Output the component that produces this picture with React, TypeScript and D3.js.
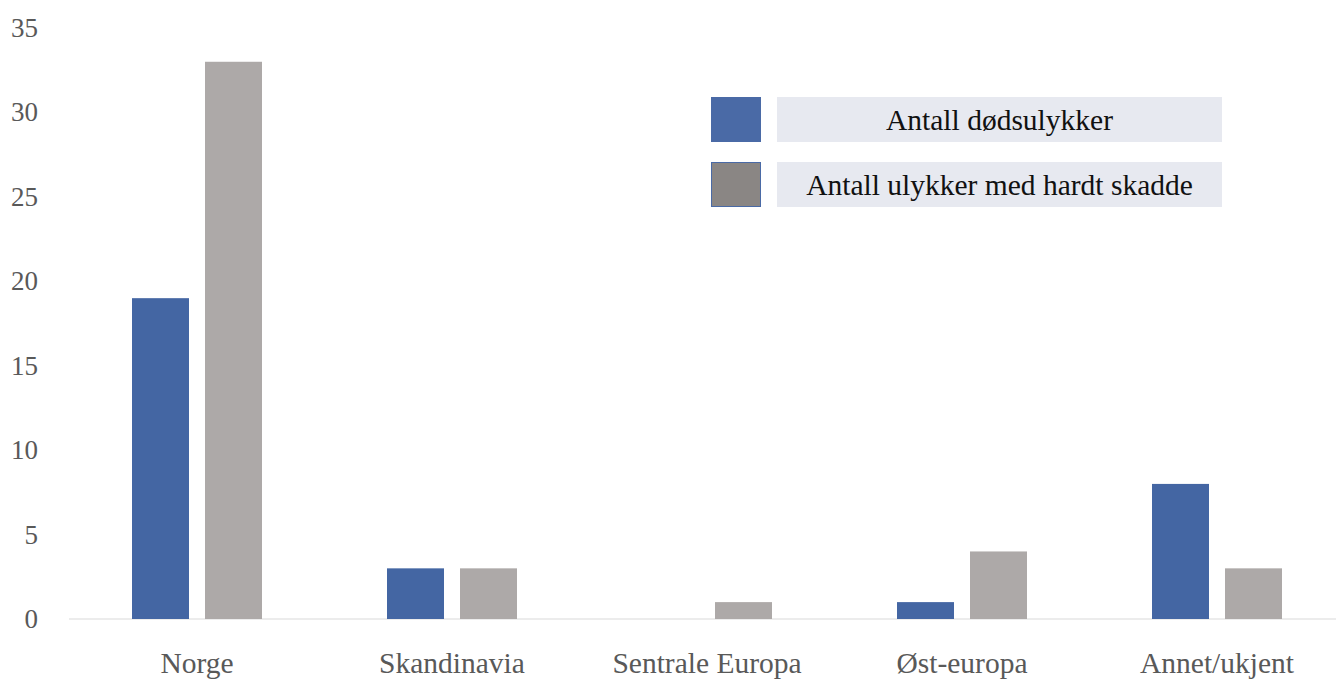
import React from "react";
import * as d3 from "d3";

const categories = ["Norge", "Skandinavia", "Sentrale Europa", "Øst-europa", "Annet/ukjent"];
const seriesNames = ["Antall dødsulykker", "Antall ulykker med hardt skadde"];
const deaths = [19, 3, 0, 1, 8];
const injured = [33, 3, 1, 4, 3];
const yTicks = [0, 5, 10, 15, 20, 25, 30, 35];

const W = 1336;
const H = 679;
const FONT = "'Liberation Serif', 'DejaVu Serif', serif";

export default function App() {
  const x = d3.scaleBand<string>().domain(categories).range([69.5, 1344.5]);
  const y = d3.scaleLinear().domain([0, 35]).range([619, 28]);
  const barW = 57;
  const gap = 16;
  const colors = ["#4466A3", "#ADA9A8"];
  const legendFill = ["#4A6AA6", "#8A8684"];
  const series = [deaths, injured];

  return (
    <svg
      width={W}
      height={H}
      style={{ position: "absolute", left: 0, top: 0, background: "#fff" }}
      fontFamily={FONT}
    >
      {yTicks.map((t) => (
        <text
          key={t}
          x={38}
          y={y(t)}
          textAnchor="end"
          dominantBaseline="central"
          fontSize={27}
          fill="#595959"
        >
          {t}
        </text>
      ))}
      <line x1={69} x2={W} y1={y(0)} y2={y(0)} stroke="#D9D9D9" strokeWidth={1.2} />
      {categories.map((c, i) => {
        const cx = x(c)! + x.bandwidth() / 2;
        return (
          <g key={c}>
            {series.map((s, k) => {
              const v = s[i];
              if (v === 0) return null;
              const bx = k === 0 ? cx - gap / 2 - barW : cx + gap / 2;
              return (
                <rect
                  key={k}
                  x={bx}
                  y={y(v)}
                  width={barW}
                  height={y(0) - y(v)}
                  fill={colors[k]}
                />
              );
            })}
            <text
              x={cx}
              y={673}
              textAnchor="middle"
              fontSize={29.5}
              fill="#595959"
            >
              {c}
            </text>
          </g>
        );
      })}
      {seriesNames.map((name, k) => {
        const top = k === 0 ? 97 : 162;
        return (
          <g key={name}>
            <rect
              x={711.5}
              y={top + 0.5}
              width={49}
              height={44}
              fill={legendFill[k]}
              stroke="#4A6AA6"
              strokeWidth={1}
            />
            <rect x={777} y={top} width={445} height={45} fill="#E7E9F0" />
            <text
              x={999.5}
              y={top + 23}
              textAnchor="middle"
              dominantBaseline="central"
              fontSize={29.5}
              fill="#111"
            >
              {name}
            </text>
          </g>
        );
      })}
    </svg>
  );
}
